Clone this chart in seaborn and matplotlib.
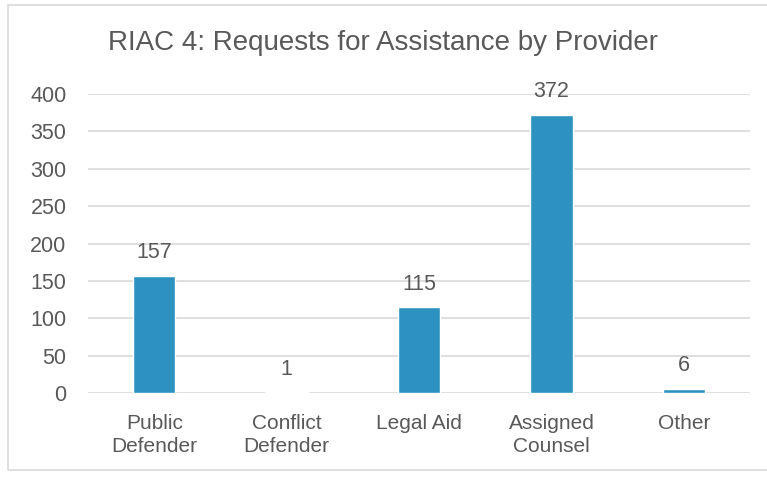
import matplotlib
matplotlib.use("Agg")
import matplotlib.pyplot as plt
import seaborn as sns
import pandas as pd
from matplotlib.patches import Rectangle

categories = ["Public\nDefender", "Conflict\nDefender", "Legal Aid", "Assigned\nCounsel", "Other"]
requests = [157, 1, 115, 372, 6]
y_ticks = [0, 50, 100, 150, 200, 250, 300, 350, 400]

title = "RIAC 4: Requests for Assistance by Provider"
bar_color = "#2E92C0"
text_color = "#595959"

sns.set_theme(style="white")
plt.rcParams["font.family"] = ["Liberation Sans", "DejaVu Sans"]

df = pd.DataFrame({"provider": categories, "requests": requests})

fig = plt.figure(figsize=(7.67, 4.83), dpi=100)
ax = fig.add_axes([0.1147, 0.1863, 0.8633, 0.6191])

sns.barplot(data=df, x="provider", y="requests", color=bar_color,
            width=0.32, saturation=1, ax=ax, zorder=3)

ax.set_ylim(0, 400)
ax.set_xlim(-0.5, len(categories) - 0.5)
ax.set_yticks(y_ticks)
ax.set_yticklabels([str(t) for t in y_ticks])
ax.yaxis.grid(True, color="#D9D9D9", linewidth=1.2, zorder=0)
ax.set_axisbelow(True)
for s in ax.spines.values():
    s.set_visible(False)
ax.tick_params(axis="both", length=0, colors=text_color)
ax.tick_params(axis="y", pad=15.5, labelsize=15.5)
ax.tick_params(axis="x", pad=15, labelsize=15)
for lbl in ax.get_xticklabels():
    lbl.set_linespacing(1.3)
ax.set_xlabel("")
ax.set_ylabel("")

for i, v in enumerate(requests):
    ax.annotate(str(v), (i, v), xytext=(0, 9), textcoords="offset points",
                ha="center", va="bottom", fontsize=15.5, color=text_color)

fig.text(0.5, 0.911, title, ha="center", va="center", fontsize=20, color=text_color)

fig.patches.append(Rectangle((8 / 767, 1 - 470 / 483), 1.2, 465 / 483,
                             transform=fig.transFigure, fill=False,
                             edgecolor="#D9D9D9", linewidth=1.2))

fig.savefig("out.png", dpi=100, facecolor="white")
